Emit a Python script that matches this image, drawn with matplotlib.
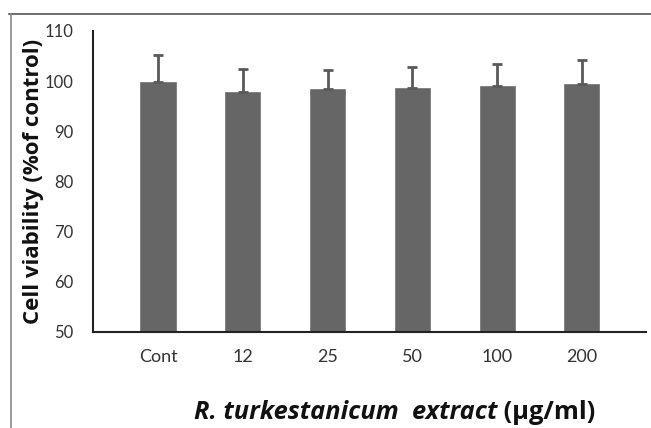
import matplotlib
matplotlib.use("Agg")
import matplotlib.pyplot as plt
from matplotlib.lines import Line2D
import numpy as np

# values
categories = ["Cont", "12", "25", "50", "100", "200"]
viability = [99.9, 97.9, 98.4, 98.7, 99.05, 99.5]
err_upper = [5.3, 4.6, 3.8, 4.15, 4.35, 4.7]
y_ticks = [50, 60, 70, 80, 90, 100, 110]

plt.rcParams['font.family'] = ['Lato', 'DejaVu Sans']

fig = plt.figure(figsize=(6.51, 4.28), dpi=100)
ax = fig.add_axes([0.1429, 0.2243, 0.8494, 0.7033])

x = np.arange(len(categories))
bar_color = '#666666'
ax.bar(x, viability, width=0.414, color=bar_color, edgecolor='#7a7a7a', linewidth=0.6, zorder=2)
ax.errorbar(x, viability, yerr=[np.zeros(len(x)), err_upper], fmt='none',
            ecolor='#5a5a5a', elinewidth=2, capsize=3.8, capthick=2, zorder=3)

ax.set_xlim(-0.767, 5.757)
ax.set_ylim(50, 110)
ax.set_yticks(y_ticks)
ax.set_xticks(x)
ax.set_xticklabels(categories, fontsize=13, color='#333333')
ax.set_yticklabels([str(v) for v in y_ticks], fontsize=12, color='#333333')
ax.tick_params(axis='both', length=0)
ax.tick_params(axis='y', pad=14)
ax.tick_params(axis='x', pad=12)

for side in ['top', 'right']:
    ax.spines[side].set_visible(False)
for side in ['left', 'bottom']:
    ax.spines[side].set_linewidth(1.5)
    ax.spines[side].set_color('#222222')

# y label
fig.text(0.052, 0.577, 'Cell viability (%of control)', rotation=90, ha='center', va='center',
         fontsize=16, fontweight='bold', color='#111111', family='Open Sans')

# x label: italic part plus upright units
t1 = fig.text(0.298, 0.036, 'R. turkestanicum  extract', fontsize=18.3, fontweight='bold',
              style='italic', ha='left', va='center', color='#111111', family='Open Sans')
ax.annotate(' (µg/ml)', xy=(1, 0.5), xycoords=t1, ha='left', va='center',
            fontsize=18.3, fontweight='bold', color='#111111', family='Open Sans',
            annotation_clip=False)

# outer frame lines (top and left)
fig.add_artist(Line2D([9 / 651, 1.0], [1 - 14 / 428, 1 - 14 / 428], color='#555555', linewidth=1.2))
fig.add_artist(Line2D([11 / 651, 11 / 651], [0, 1 - 14 / 428], color='#8a8a8a', linewidth=1.2))

fig.savefig('out.png', dpi=100)
